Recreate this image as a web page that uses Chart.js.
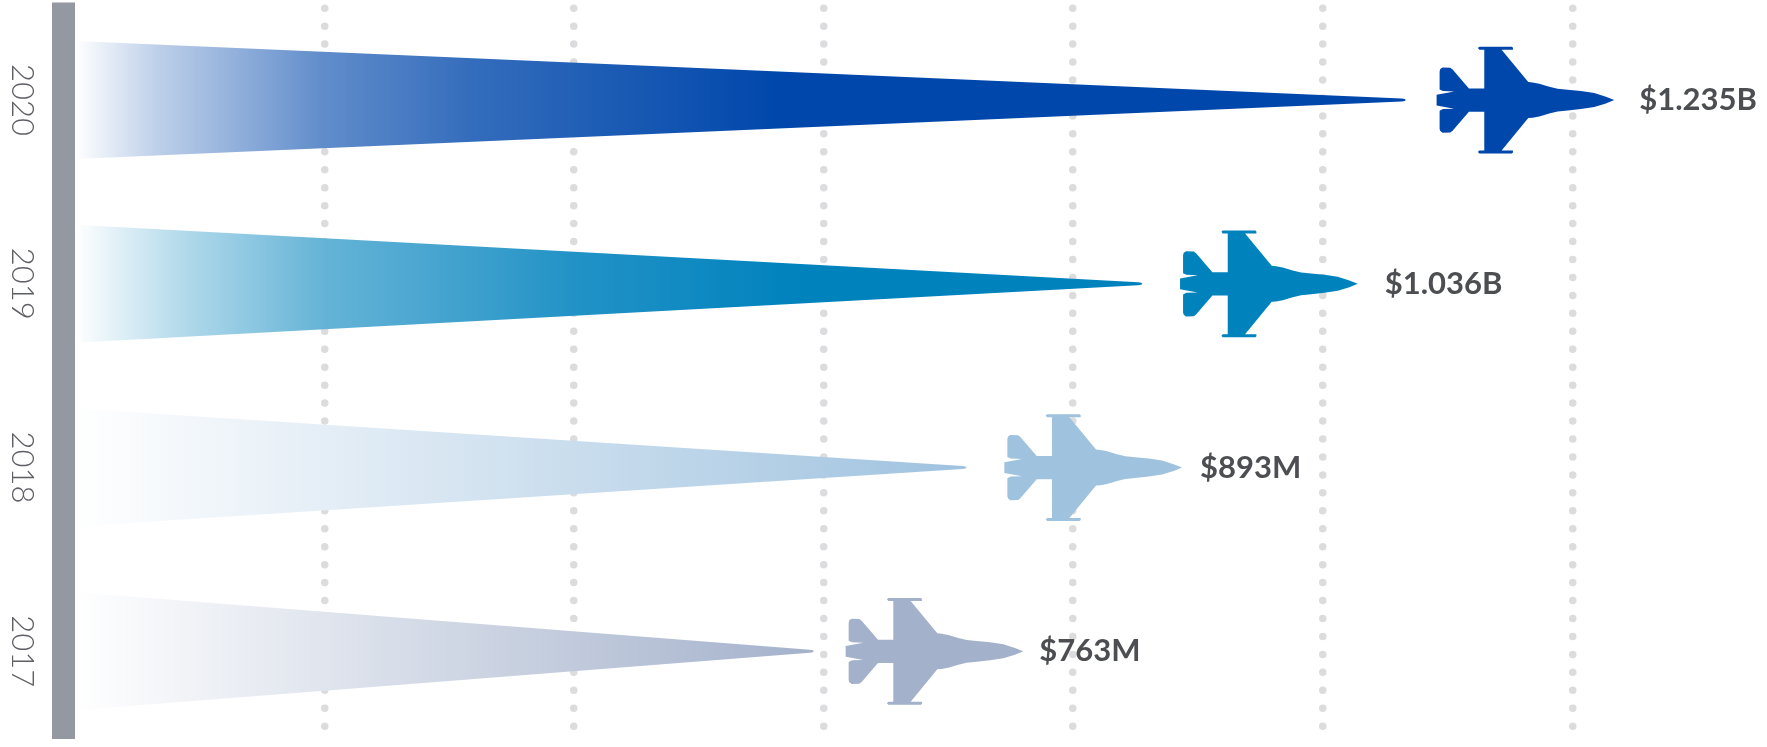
<!DOCTYPE html>
<html>
<head>
<meta charset="utf-8">
<style>
  html, body { margin: 0; padding: 0; background: #fff; }
  canvas { display: block; }
</style>
<script src="https://cdn.jsdelivr.net/npm/chart.js@4/dist/chart.umd.min.js"></script>
</head>
<body>
<canvas id="spendChart" width="1767" height="747"></canvas>
<script>
const years = ['2020', '2019', '2018', '2017'];
// Spend in $M, used for the labels
const spendValues = [1235, 1036, 893, 763];
// The picture is not drawn to scale with the labels, so lengths are read off the grid (250 per dotted line)
const trailLengths = [1333, 1069, 893, 740];
const noseValues = [1542, 1285, 1109, 950];
const gridValues = [250, 500, 750, 1000, 1250, 1500];

const fillColors = ['#0047ab', '#0082bd', '#9fc2df', '#a3b1cb'];
// [position along the trail, strength of colour]
const fadeStops = [
    [[0, 0], [0.06, 0.25], [0.185, 0.62], [0.3, 0.8], [0.53, 1], [1, 1]],
    [[0, 0], [0.1, 0.3], [0.23, 0.6], [0.47, 0.87], [0.68, 1], [1, 1]],
    [[0, 0], [1, 1]],
    [[0, 0], [1, 1]]
];
const labelGaps = [25, 27, 18, 16];

const formatSpend = v => v >= 1000 ? '$' + (v / 1000).toFixed(3) + 'B' : '$' + v + 'M';

// Mix towards white, the trails have to hide the dots behind them
const tint = (hex, a) => {
    const n = parseInt(hex.slice(1), 16);
    const c = [n >> 16, (n >> 8) & 255, n & 255].map(v => Math.round(255 + (v - 255) * a));
    return `rgb(${c[0]},${c[1]},${c[2]})`;
};

// Jet outline, top half, measured back from the nose (mirrored for the lower half)
const jetTop = [
    [-25, -10], [-60, -21], [-100, -27], [-140, -31], [-170, -34], [-195, -40], [-225, -49], [-245, -53], [-258, -54],
    [-338, -151], [-304, -151], [-304, -157], [-307, -160], [-405, -160], [-409, -156], [-405, -151], [-390, -151],
    [-390, -35], [-436, -35], [-485, -92], [-492, -97], [-515, -98], [-522, -93], [-524, -86],
    [-524, -32], [-514, -27], [-480, -26], [-533, -16]
];

const drawJet = (ctx, noseX, y, color) => {
    const s = 1 / 3;
    ctx.beginPath();
    ctx.moveTo(noseX, y);
    jetTop.forEach(p => ctx.lineTo(noseX + p[0] * s, y + p[1] * s));
    [...jetTop].reverse().forEach(p => ctx.lineTo(noseX + p[0] * s, y - p[1] * s));
    ctx.closePath();
    ctx.fillStyle = color;
    ctx.fill();
};

const jetPlugin = {
    id: 'jetPlugin',
    beforeDraw(chart) {
        // dotted grid needs round caps
        chart.ctx.lineCap = 'round';
    },
    afterDatasetsDraw(chart) {
        const ctx = chart.ctx;
        const yScale = chart.scales.y;
        ctx.save();
        ctx.lineCap = 'butt';

        // Grey baseline
        ctx.fillStyle = '#9498a1';
        ctx.fillRect(yScale.right - 23, 2.5, 23, 736.5);

        chart.getDatasetMeta(0).data.forEach((bar, i) => {
            const { x, y, base, height } = bar.getProps(['x', 'y', 'base', 'height'], true);
            const grad = ctx.createLinearGradient(base, 0, x, 0);
            fadeStops[i].forEach(s => grad.addColorStop(s[0], tint(fillColors[i], s[1])));

            ctx.beginPath();
            ctx.moveTo(base, y - height / 2);
            ctx.lineTo(x - 4, y - 1.5);
            ctx.quadraticCurveTo(x, y - 1.2, x, y);
            ctx.quadraticCurveTo(x, y + 1.2, x - 4, y + 1.5);
            ctx.lineTo(base, y + height / 2);
            ctx.closePath();
            ctx.fillStyle = grad;
            ctx.fill();
        });

        chart.getDatasetMeta(1).data.forEach((bar, i) => {
            drawJet(ctx, bar.x, bar.y, fillColors[i]);
            ctx.fillStyle = '#4d4e52';
            ctx.font = '700 31px Lato';
            ctx.textAlign = 'left';
            ctx.textBaseline = 'middle';
            ctx.fillText(formatSpend(spendValues[i]), bar.x + labelGaps[i], bar.y);
        });
        ctx.restore();
    }
};

new Chart(document.getElementById('spendChart'), {
    type: 'bar',
    data: {
        labels: years,
        datasets: [
            { label: 'Trail', data: trailLengths, backgroundColor: 'transparent', barThickness: 118, grouped: false },
            { label: 'Nose', data: noseValues, backgroundColor: 'transparent', barThickness: 118, grouped: false }
        ]
    },
    options: {
        indexAxis: 'y',
        responsive: false,
        animation: false,
        layout: { padding: { top: 8.2, bottom: 3.8, left: 0, right: 0 } },
        plugins: { legend: { display: false }, tooltip: { enabled: false } },
        scales: {
            x: {
                min: 0,
                max: 1695,
                ticks: { display: false },
                afterBuildTicks: s => { s.ticks = gridValues.map(value => ({ value })); },
                // dash settings live on border in v4, they also steer the grid lines
                border: { display: false, dash: [0, 17.95] },
                grid: {
                    color: '#dcdcde',
                    lineWidth: 7.5,
                    drawTicks: false
                }
            },
            y: {
                afterFit: s => {
                    s.width = 75;
                    s.paddingTop = 0;
                    s.paddingBottom = 0;
                },
                border: { display: false },
                grid: { display: false, drawTicks: false },
                ticks: {
                    minRotation: -90,
                    maxRotation: -90,
                    crossAlign: 'center',
                    padding: 17,
                    color: '#5f6065',
                    font: { family: 'Lato', weight: '300', size: 31 }
                }
            }
        }
    },
    plugins: [jetPlugin]
});
</script>
</body>
</html>
